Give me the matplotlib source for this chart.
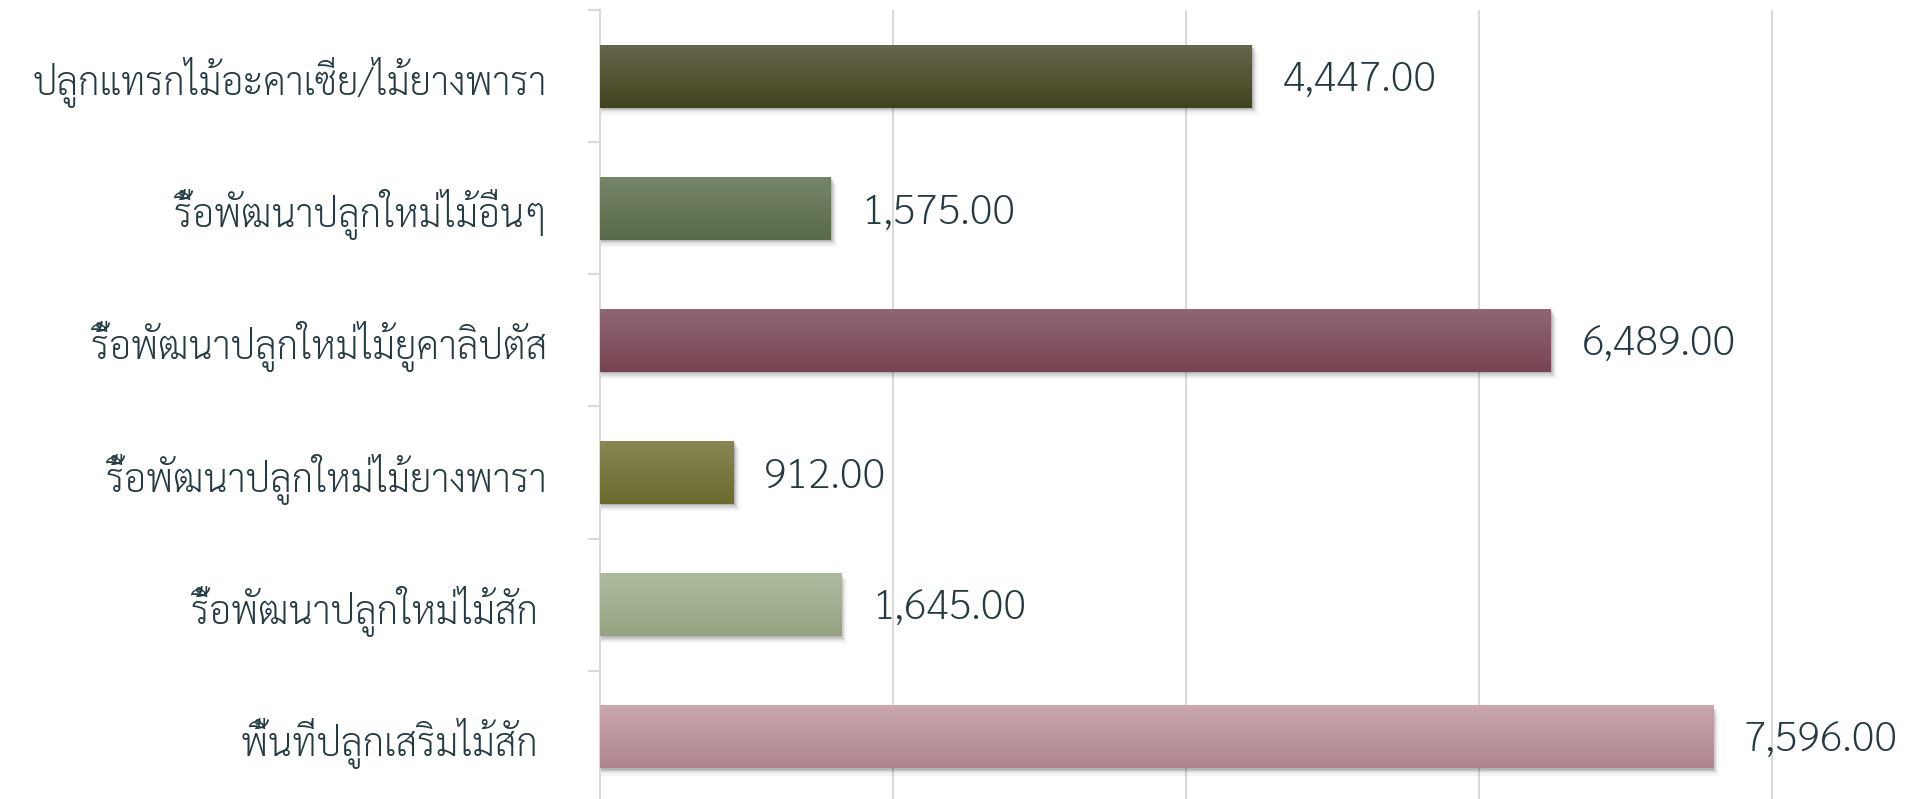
import numpy as np
import matplotlib
matplotlib.use("Agg")
import matplotlib.pyplot as plt
from matplotlib.colors import LinearSegmentedColormap
from matplotlib.patches import Rectangle

plt.rcParams['font.family'] = ['Sarabun', 'DejaVu Sans']
plt.rcParams['font.weight'] = 275

# ข้อมูลพื้นที่ (ไร่) เรียงจากบนลงล่าง
categories = [
    'ปลูกแทรกไม้อะคาเซีย/ไม้ยางพารา',
    'รื้อพัฒนาปลูกใหม่ไม้อื่นๆ',
    'รื้อพัฒนาปลูกใหม่ไม้ยูคาลิปตัส',
    'รื้อพัฒนาปลูกใหม่ไม้ยางพารา',
    'รื้อพัฒนาปลูกใหม่ไม้สัก ',
    'พื้นที่ปลูกเสริมไม้สัก ',
]
values = [4447, 1575, 6489, 912, 1645, 7596]

# สีไล่ระดับของแต่ละแท่ง (บน -> ล่าง)
top_colors = ['#67674f', '#768669', '#8f6873', '#898755', '#aebb9e', '#caa8b0']
bottom_colors = ['#42431e', '#596a48', '#784352', '#6a6a2e', '#95a383', '#b0858e']

text_color = '#243a42'
grid_color = '#d9d9d9'

fig = plt.figure(figsize=(19.19, 7.99), dpi=100)
ax = fig.add_axes([600 / 1919, -0.005, 1 - 600 / 1919, 0.9925])

y = np.arange(len(categories))
bar_h = 0.477
ax.set_xlim(0, 9000)
ax.set_ylim(len(categories) - 0.5, -0.5)

# เงาด้านล่างขวาของแท่ง (ซ้อนหลายชั้นให้ดูนุ่ม)
px_x = 9000 / 1319.0
px_y = 6 / 793.0
for yi, v in zip(y, values):
    for k, a in [(1, 0.10), (2, 0.08), (3, 0.06), (4, 0.05), (6, 0.04)]:
        ax.add_patch(Rectangle((0, yi - bar_h / 2 + 2 * k * px_y * 0.6),
                               v + k * px_x, bar_h, facecolor='black',
                               edgecolor='none', alpha=a, zorder=2))

bars = ax.barh(y, values, height=bar_h, color=bottom_colors, zorder=3)

# เติมสีไล่ระดับลงในแต่ละแท่ง
grad = np.linspace(0, 1, 256).reshape(-1, 1)
for bar, c0, c1 in zip(bars, top_colors, bottom_colors):
    cmap = LinearSegmentedColormap.from_list('g', [c0, c1])
    x0, y0 = bar.get_x(), bar.get_y()
    w, h = bar.get_width(), bar.get_height()
    im = ax.imshow(grad, cmap=cmap, aspect='auto', interpolation='bilinear',
                   extent=(x0, x0 + w, y0 + h, y0), zorder=4)
    im.set_clip_path(bar)

for yi, v in zip(y, values):
    ax.annotate(f'{v:,.2f}', xy=(v, yi), xytext=(22, -3), textcoords='offset points',
                va='center', ha='left', fontsize=30, color=text_color)

ax.set_xticks([2000, 4000, 6000, 8000])
ax.tick_params(axis='x', length=0, labelbottom=False)
ax.grid(axis='x', color=grid_color, linewidth=1.5, zorder=0)

ax.set_yticks(y)
ax.set_yticklabels(categories, fontsize=27.5, color=text_color)
ax.set_yticks(np.arange(len(categories) + 1) - 0.5, minor=True)
ax.tick_params(axis='y', which='major', length=0, pad=38)
ax.tick_params(axis='y', which='minor', length=9, width=1.5, color=grid_color)

for s in ['top', 'right', 'bottom']:
    ax.spines[s].set_visible(False)
ax.spines['left'].set_color(grid_color)
ax.spines['left'].set_linewidth(1.5)
ax.set_axisbelow(True)

fig.savefig('out.png', dpi=100)
